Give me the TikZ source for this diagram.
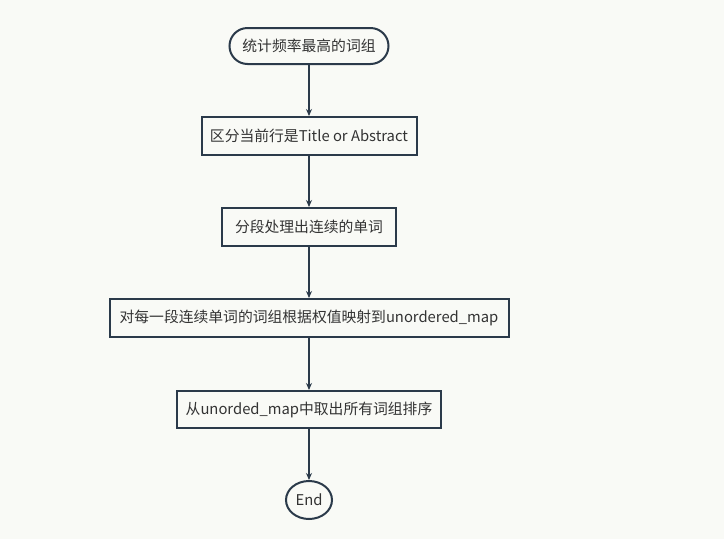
\documentclass[tikz,border=0pt]{standalone}
\usepackage{fontspec}
\setmainfont{Noto Sans CJK SC}
\usetikzlibrary{arrows.meta,shapes.misc,shapes.geometric}
\definecolor{bg}{HTML}{F9FAF6}
\definecolor{ln}{HTML}{2B3A4A}
\definecolor{tx}{HTML}{333333}
\begin{document}
\begin{tikzpicture}[x=1pt,y=-1pt,
  every node/.style={font=\fontsize{14.8}{17}\selectfont, text=tx},
  procbox/.style={draw=ln, line width=2pt, fill=bg, rectangle, minimum height=38pt, inner xsep=0pt},
  term/.style={draw=ln, line width=2pt, fill=bg, rounded rectangle, minimum height=36pt, inner xsep=0pt},
  endnode/.style={draw=ln, line width=2pt, fill=bg, ellipse, minimum width=46pt, minimum height=38pt, inner sep=0pt},
  conn/.style={draw=ln, line width=1.8pt, -{Stealth[length=7pt,width=6pt]}}]
\fill[bg] (0,0) rectangle (724,539);
\useasboundingbox (0,0) rectangle (724,539);
\node[term, minimum width=159pt] (s) at (309,46) {统计频率最高的词组};
\node[procbox, minimum width=215pt] (a) at (309,136) {区分当前行是Title or Abstract};
\node[procbox, minimum width=174pt] (b) at (309,227) {分段处理出连续的单词};
\node[procbox, minimum width=399pt] (c) at (309,318) {对每一段连续单词的词组根据权值映射到unordered\_map};
\node[procbox, minimum width=264pt, minimum height=37pt] (d) at (309,409.5) {从unorded\_map中取出所有词组排序};
\node[endnode] (e) at (309,500) {End};
\draw[conn] (s) -- (a);
\draw[conn] (a) -- (b);
\draw[conn] (b) -- (c);
\draw[conn] (c) -- (d);
\draw[conn] (d) -- (e);
\end{tikzpicture}
\end{document}
